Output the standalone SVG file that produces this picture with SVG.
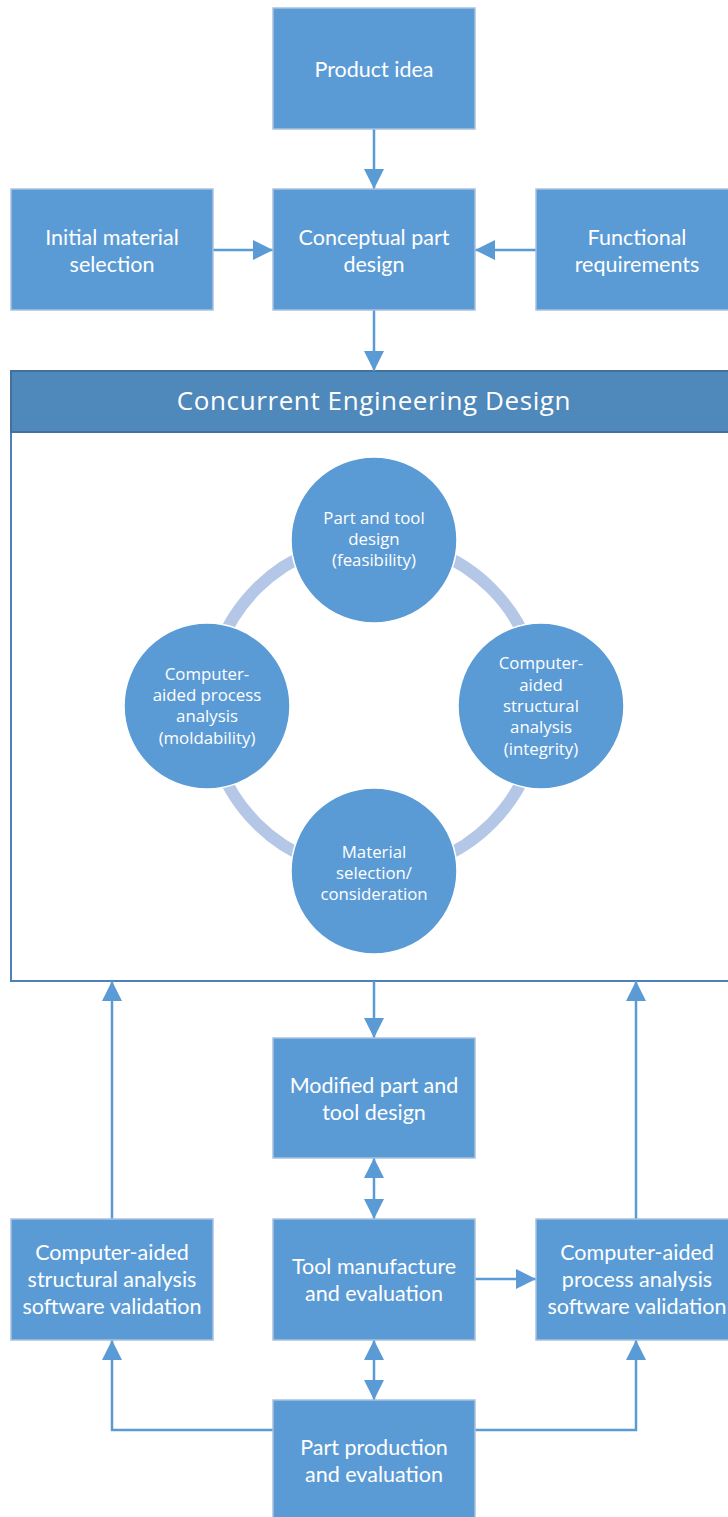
<svg xmlns="http://www.w3.org/2000/svg" width="728" height="1517" viewBox="0 0 728 1517">
  <defs>
    <style>
      .box { fill: #5b9bd5; stroke: #a9c1de; stroke-width: 1.5; }
      .btxt { fill: #ffffff; font-family: Lato, "Open Sans", sans-serif; font-size: 21.5px; text-anchor: middle; }
      .ctxt { fill: #ffffff; font-family: "Open Sans", "DejaVu Sans", sans-serif; font-size: 16.8px; text-anchor: middle; }
      .circ { fill: #5b9bd5; stroke: #ffffff; stroke-width: 1.5; }
      .link { fill: none; stroke: #5b9bd5; stroke-width: 2.5; }
    </style>
    <marker id="ah" viewBox="0 0 20 20" refX="20" refY="10" markerWidth="20" markerHeight="20" markerUnits="userSpaceOnUse" orient="auto-start-reverse">
      <path d="M0,0 L20,10 L0,20 Z" fill="#5b9bd5"/>
    </marker>
  </defs>

  <rect width="728" height="1517" fill="#ffffff"/>

  <!-- concurrent engineering frame -->
  <g id="concurrent-engineering">
    <rect x="11" y="371" width="730" height="610" fill="#ffffff" stroke="#4f81b9" stroke-width="2"/>
    <rect x="11" y="371" width="730" height="61" fill="#4f88bb" stroke="#41719c" stroke-width="2"/>
    <text x="374" y="410" fill="#ffffff" font-family="'Open Sans', 'DejaVu Sans', sans-serif" font-size="26" letter-spacing="0.6" text-anchor="middle">Concurrent Engineering Design</text>
    <circle cx="374" cy="706" r="166" fill="none" stroke="#b4c7e7" stroke-width="12"/>
  </g>

  <!-- connectors -->
  <g id="connectors">
    <line class="link" x1="374" y1="129" x2="374" y2="189" marker-end="url(#ah)"/>
    <line class="link" x1="213" y1="250" x2="273" y2="250" marker-end="url(#ah)"/>
    <line class="link" x1="536" y1="250" x2="475" y2="250" marker-end="url(#ah)"/>
    <line class="link" x1="374" y1="310" x2="374" y2="371" marker-end="url(#ah)"/>
    <line class="link" x1="374" y1="981" x2="374" y2="1038" marker-end="url(#ah)"/>
    <line class="link" x1="374" y1="1158" x2="374" y2="1219" marker-start="url(#ah)" marker-end="url(#ah)"/>
    <line class="link" x1="374" y1="1340" x2="374" y2="1400" marker-start="url(#ah)" marker-end="url(#ah)"/>
    <line class="link" x1="475" y1="1279" x2="536" y2="1279" marker-end="url(#ah)"/>
    <line class="link" x1="112" y1="1219" x2="112" y2="981" marker-end="url(#ah)"/>
    <line class="link" x1="636" y1="1219" x2="636" y2="981" marker-end="url(#ah)"/>
    <polyline class="link" points="273,1430 112,1430 112,1340" marker-end="url(#ah)"/>
    <polyline class="link" points="475,1430 636,1430 636,1340" marker-end="url(#ah)"/>
  </g>

  <!-- cycle nodes -->
  <g id="part-tool-design">
    <circle class="circ" cx="374" cy="540" r="83"/>
    <text class="ctxt" x="374" y="524">Part and tool</text>
    <text class="ctxt" x="374" y="545">design</text>
    <text class="ctxt" x="374" y="566">(feasibility)</text>
  </g>
  <g id="process-analysis">
    <circle class="circ" cx="207" cy="706" r="83"/>
    <text class="ctxt" x="207" y="680">Computer-</text>
    <text class="ctxt" x="207" y="701">aided process</text>
    <text class="ctxt" x="207" y="722">analysis</text>
    <text class="ctxt" x="207" y="744">(moldability)</text>
  </g>
  <g id="structural-analysis">
    <circle class="circ" cx="541" cy="706" r="83"/>
    <text class="ctxt" x="541" y="669">Computer-</text>
    <text class="ctxt" x="541" y="691">aided</text>
    <text class="ctxt" x="541" y="712">structural</text>
    <text class="ctxt" x="541" y="733">analysis</text>
    <text class="ctxt" x="541" y="755">(integrity)</text>
  </g>
  <g id="material-selection">
    <circle class="circ" cx="374" cy="871" r="83"/>
    <text class="ctxt" x="374" y="858">Material</text>
    <text class="ctxt" x="374" y="879">selection/</text>
    <text class="ctxt" x="374" y="900">consideration</text>
  </g>

  <!-- flow boxes -->
  <g id="product-idea">
    <rect class="box" x="273" y="8" width="202" height="121"/>
    <text class="btxt" x="374" y="77">Product idea</text>
  </g>
  <g id="initial-material">
    <rect class="box" x="11" y="189" width="202" height="121"/>
    <text class="btxt" x="112" y="245">Initial material</text>
    <text class="btxt" x="112" y="272">selection</text>
  </g>
  <g id="conceptual-design">
    <rect class="box" x="273" y="189" width="202" height="121"/>
    <text class="btxt" x="374" y="245">Conceptual part</text>
    <text class="btxt" x="374" y="272">design</text>
  </g>
  <g id="functional-requirements">
    <rect class="box" x="536" y="189" width="202" height="121"/>
    <text class="btxt" x="637" y="245">Functional</text>
    <text class="btxt" x="637" y="272">requirements</text>
  </g>
  <g id="modified-design">
    <rect class="box" x="273" y="1038" width="202" height="120"/>
    <text class="btxt" x="374" y="1093">Modified part and</text>
    <text class="btxt" x="374" y="1120">tool design</text>
  </g>
  <g id="structural-validation">
    <rect class="box" x="11" y="1219" width="202" height="121"/>
    <text class="btxt" x="112" y="1260">Computer-aided</text>
    <text class="btxt" x="112" y="1287">structural analysis</text>
    <text class="btxt" x="112" y="1314">software validation</text>
  </g>
  <g id="tool-manufacture">
    <rect class="box" x="273" y="1219" width="202" height="121"/>
    <text class="btxt" x="374" y="1274">Tool manufacture</text>
    <text class="btxt" x="374" y="1301">and evaluation</text>
  </g>
  <g id="process-validation">
    <rect class="box" x="536" y="1219" width="202" height="121"/>
    <text class="btxt" x="637" y="1260">Computer-aided</text>
    <text class="btxt" x="637" y="1287">process analysis</text>
    <text class="btxt" x="637" y="1314">software validation</text>
  </g>
  <g id="part-production">
    <rect class="box" x="273" y="1400" width="202" height="125"/>
    <text class="btxt" x="374" y="1455">Part production</text>
    <text class="btxt" x="374" y="1482">and evaluation</text>
  </g>
</svg>
